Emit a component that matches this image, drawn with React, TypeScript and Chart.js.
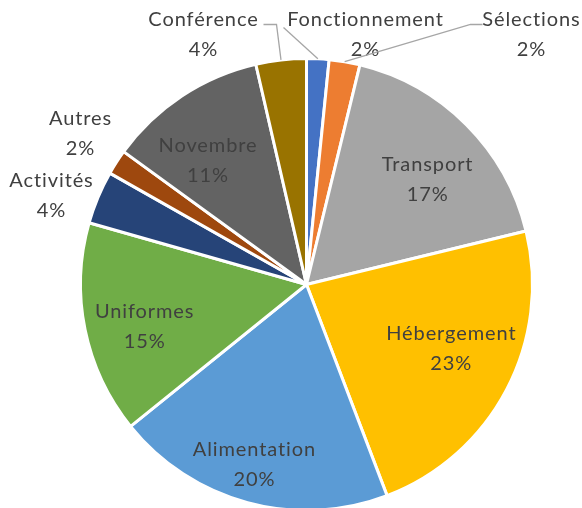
import React, { useEffect, useRef } from "react";
import { Chart, registerables } from "chart.js";

Chart.register(...registerables);

const categories = [
  "Fonctionnement",
  "Sélections",
  "Transport",
  "Hébergement",
  "Alimentation",
  "Uniformes",
  "Activités",
  "Autres",
  "Novembre",
  "Conférence",
];
const values = [1.6, 2.2, 17.4, 23.0, 20.0, 15.2, 3.8, 1.8, 11.4, 3.6];
const colors = [
  "#4472C4",
  "#ED7D31",
  "#A5A5A5",
  "#FFC000",
  "#5B9BD5",
  "#70AD47",
  "#264478",
  "#9E480E",
  "#636363",
  "#997300",
];

// label placement (style): inside => radius fraction + angle offset (deg); outside => block centre relative to pie centre
type LabelCfg =
  | { kind: "in"; r: number; da: number }
  | { kind: "out"; dx: number; dy: number; leader?: number[][] };
const labelCfg: LabelCfg[] = [
  { kind: "out", dx: 59, dy: -250, leader: [[-23, -257]] },
  { kind: "out", dx: 225, dy: -250, leader: [[176, -260], [164, -260]] },
  { kind: "in", r: 0.71, da: 4 },
  { kind: "in", r: 0.7, da: -4 },
  { kind: "in", r: 0.83, da: 1 },
  { kind: "in", r: 0.74, da: -3 },
  { kind: "out", dx: -255, dy: -89 },
  { kind: "out", dx: -226, dy: -151 },
  { kind: "in", r: 0.7, da: -5 },
  { kind: "out", dx: -103, dy: -250, leader: [[-43, -260], [-30, -260]] },
];

const FONT = "20px Lato, 'Open Sans', sans-serif";
const TEXT = "#404040";

const labelPlugin = {
  id: "pieLabels",
  afterDatasetsDraw(chart: any) {
    const ctx = chart.ctx;
    const meta = chart.getDatasetMeta(0);
    const data = chart.data.datasets[0].data as number[];
    const total = data.reduce((a, b) => a + b, 0);
    ctx.save();
    ctx.font = FONT;
    try {
      (ctx as any).letterSpacing = "0.9px";
    } catch (e) {}
    ctx.textAlign = "center";
    ctx.textBaseline = "middle";
    meta.data.forEach((arc: any, i: number) => {
      const { x, y, startAngle, endAngle, outerRadius } = arc.getProps(
        ["x", "y", "startAngle", "endAngle", "outerRadius"],
        true
      );
      const mid = (startAngle + endAngle) / 2;
      const pct = Math.round((data[i] / total) * 100) + "%";
      const cfg = labelCfg[i];
      let cx: number, cy: number;
      if (cfg.kind === "in") {
        const a = mid + (cfg.da * Math.PI) / 180;
        cx = x + Math.cos(a) * outerRadius * cfg.r;
        cy = y + Math.sin(a) * outerRadius * cfg.r;
      } else {
        cx = x + cfg.dx;
        cy = y + cfg.dy;
        if (cfg.leader) {
          ctx.strokeStyle = "#A6A6A6";
          ctx.lineWidth = 1.3;
          ctx.beginPath();
          cfg.leader.forEach((p, k) => {
            if (k === 0) ctx.moveTo(x + p[0], y + p[1]);
            else ctx.lineTo(x + p[0], y + p[1]);
          });
          ctx.lineTo(x + Math.cos(mid) * outerRadius, y + Math.sin(mid) * outerRadius);
          ctx.stroke();
        }
      }
      ctx.fillStyle = TEXT;
      ctx.fillText(categories[i], cx, cy - 15);
      ctx.fillText(pct, cx, cy + 15);
    });
    ctx.restore();
  },
};

export default function App() {
  const ref = useRef<HTMLCanvasElement | null>(null);
  useEffect(() => {
    if (!ref.current) return;
    const chart = new Chart(ref.current, {
      type: "pie",
      data: {
        labels: categories,
        datasets: [
          {
            data: values,
            backgroundColor: colors,
            borderColor: "#FFFFFF",
            borderWidth: 3,
          },
        ],
      },
      options: {
        animation: false,
        responsive: false,
        layout: { padding: { top: 57, bottom: 8, left: 79, right: 48 } },
        plugins: { legend: { display: false }, tooltip: { enabled: false } },
      },
      plugins: [labelPlugin],
    });
    return () => chart.destroy();
  }, []);
  return (
    <div style={{ position: "absolute", left: 0, top: 0, width: 582, height: 508, overflow: "hidden", background: "#fff" }}>
      <canvas ref={ref} width={582} height={520} />
    </div>
  );
}
